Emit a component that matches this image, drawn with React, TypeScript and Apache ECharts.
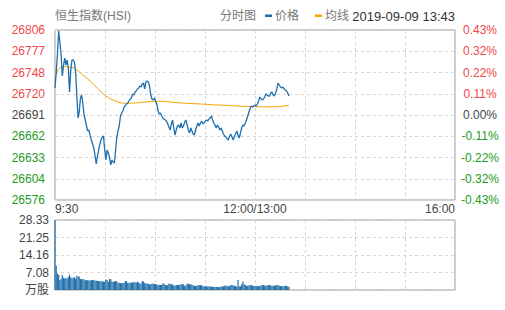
import React, { useEffect, useRef } from "react";
import * as echarts from "echarts";

const TITLE = "恒生指数(HSI)";
const VIEW_LABEL = "分时图";
const LEGEND_PRICE = "价格";
const LEGEND_AVG = "均线";
const TIME_STAMP = "2019-09-09 13:43";

const X_TICK_LABELS = ["9:30", "", "", "", "12:00/13:00", "", "", "", "16:00"];
const PRICE_TICK_LABELS = ["26576", "26604", "26633", "26662", "26691", "26720", "26748", "26777", "26806"];
const PCT_TICK_LABELS = ["-0.43%", "-0.32%", "-0.22%", "-0.11%", "0.00%", "0.11%", "0.22%", "0.32%", "0.43%"];
const VOL_TICK_LABELS = ["万股", "7.08", "14.16", "21.25", "28.33"];

const PRICE_MIN = 26576;
const PRICE_MAX = 26806;
const PCT_MAX = 0.43;
const VOL_MAX = 28.33;
const SESSION_MINUTES = 330;

// minute-by-minute index price from 9:30 (index 0) to 13:43 (index 193)
const prices = [
  26727.5, 26749.2, 26772.2, 26805.0, 26789.8, 26773.5, 26743.8, 26757.3, 26768.1, 26758.6,
  26765.4, 26754.6, 26722.1, 26751.9, 26765.4, 26765.4, 26762.7, 26749.2, 26718.1, 26686.9,
  26695.1, 26714.0, 26718.1, 26705.9, 26691.0, 26684.2, 26676.1, 26669.4, 26670.7, 26662.6,
  26657.2, 26651.8, 26646.4, 26636.9, 26624.7, 26635.5, 26643.6, 26651.8, 26657.2, 26661.2,
  26662.6, 26643.6, 26630.1, 26643.6, 26639.6, 26632.8, 26623.4, 26630.1, 26627.4, 26626.1,
  26643.6, 26661.2, 26669.4, 26676.1, 26689.6, 26693.7, 26696.4, 26701.8, 26703.2, 26705.9,
  26707.2, 26709.9, 26712.6, 26714.0, 26719.4, 26718.1, 26722.1, 26723.5, 26726.2, 26727.5,
  26730.2, 26728.9, 26732.9, 26734.3, 26726.2, 26735.6, 26737.0, 26735.6, 26730.2, 26718.1,
  26712.6, 26711.3, 26714.0, 26709.9, 26705.9, 26696.4, 26692.4, 26693.7, 26689.6, 26686.9,
  26685.6, 26684.2, 26682.9, 26678.8, 26674.8, 26670.7, 26678.8, 26684.2, 26673.4, 26663.9,
  26670.7, 26676.1, 26677.5, 26673.4, 26680.2, 26673.4, 26676.1, 26681.5, 26684.2, 26677.5,
  26670.7, 26666.6, 26673.4, 26669.4, 26665.3, 26663.9, 26670.7, 26676.1, 26680.2, 26676.1,
  26680.2, 26682.9, 26678.8, 26680.2, 26682.9, 26684.2, 26682.9, 26685.6, 26686.9, 26689.6,
  26684.2, 26680.2, 26677.5, 26673.4, 26677.5, 26674.8, 26670.7, 26673.4, 26669.4, 26665.3,
  26662.6, 26661.2, 26658.5, 26657.2, 26662.6, 26665.3, 26661.2, 26657.2, 26662.6, 26665.3,
  26669.4, 26663.9, 26659.9, 26666.6, 26673.4, 26677.5, 26676.1, 26680.2, 26684.2, 26689.6,
  26695.1, 26700.5, 26703.2, 26701.8, 26703.2, 26704.5, 26703.2, 26705.9, 26709.9, 26715.4,
  26712.6, 26711.3, 26712.6, 26715.4, 26719.4, 26718.1, 26716.7, 26716.7, 26720.8, 26722.1,
  26718.1, 26716.7, 26720.8, 26726.2, 26734.3, 26731.6, 26728.9, 26727.5, 26728.9, 26726.2,
  26724.8, 26723.5, 26720.8, 26716.7,
];

// average line, read at selected minutes
const avgMinutes = [
  0, 2, 4, 6, 8, 10, 12, 14, 16, 18, 20, 22, 24, 26, 28, 30, 32, 34, 36, 38, 40, 42, 44, 46, 48, 50, 52,
  55, 60, 65, 70, 75, 80, 85, 90, 95, 100, 110, 120, 130, 140, 150, 160, 170, 180, 185, 190, 193,
];
const avgPrices = [
  26738.4, 26751.9, 26754.6, 26755.9, 26756.6, 26755.9, 26755.9, 26755.3, 26754.6, 26751.9, 26749.2,
  26746.5, 26743.8, 26741.1, 26738.4, 26735.6, 26732.3, 26728.9, 26725.5, 26722.1, 26719.4, 26716.7,
  26714.7, 26712.6, 26711.3, 26709.9, 26708.6, 26707.2, 26706.9, 26707.2, 26707.9, 26708.6, 26709.3,
  26709.7, 26709.3, 26708.6, 26707.9, 26706.6, 26705.9, 26704.9, 26704.1, 26703.2, 26702.5, 26702.1,
  26702.1, 26702.3, 26703.6, 26703.9,
];

// per-minute volume (万股)
const volumes = [
  28.33, 9.8, 6.7, 6.2, 4.0, 4.5, 6.1, 5.0, 4.7, 4.9,
  4.6, 5.4, 6.3, 5.2, 4.7, 5.1, 5.2, 4.6, 5.8, 5.4,
  5.5, 4.5, 4.4, 4.5, 4.2, 3.9, 3.9, 4.0, 3.8, 3.9,
  3.9, 4.0, 4.0, 3.7, 3.8, 3.6, 3.6, 3.5, 3.6, 3.4,
  3.4, 3.3, 4.2, 4.0, 3.2, 4.5, 4.4, 3.4, 3.3, 3.4,
  3.6, 3.5, 2.8, 2.9, 2.8, 2.7, 2.8, 2.8, 3.6, 3.5,
  2.8, 2.9, 2.7, 3.1, 3.0, 3.2, 3.1, 2.9, 3.4, 3.0,
  2.6, 2.5, 3.6, 3.4, 2.8, 2.6, 2.6, 2.4, 2.3, 2.3,
  2.5, 2.6, 2.4, 2.3, 2.3, 2.0, 2.1, 2.0, 2.0, 2.6,
  2.5, 2.0, 1.9, 2.0, 2.6, 2.4, 2.3, 2.2, 1.8, 1.7,
  2.0, 2.0, 2.1, 2.0, 2.3, 2.4, 2.2, 1.7, 1.8, 2.6,
  2.5, 2.3, 2.3, 2.2, 1.8, 1.7, 1.7, 1.6, 2.0, 2.0,
  2.0, 1.9, 1.5, 1.5, 1.5, 1.5, 1.4, 1.5, 1.4, 1.35,
  1.3, 1.2, 1.2, 1.3, 1.2, 1.2, 1.2, 1.3, 1.5, 1.5,
  1.7, 1.8, 1.6, 1.5, 1.5, 2.0, 2.0, 1.8, 1.75, 1.5,
  1.4, 4.0, 1.5, 1.5, 2.3, 3.4, 2.3, 2.0, 1.75, 1.7,
  1.8, 2.0, 2.0, 1.75, 1.7, 1.6, 1.5, 1.5, 1.6, 1.75,
  1.7, 2.0, 2.0, 1.8, 1.75, 1.8, 2.0, 2.0, 1.8, 1.75,
  1.7, 1.75, 1.8, 2.0, 2.0, 1.75, 1.6, 1.5, 1.5, 1.6,
  1.75, 1.7, 1.4, 1.35,
];

const FONT = '"Liberation Sans", Arial, "Noto Sans CJK SC", sans-serif';
const RED = "#f24848";
const GREEN = "#1e9b1e";
const FLAT = "#444";
const BLUE = "#1f6fae";
const BAR_BLUE = "#226fa9";
const ORANGE = "#f7a600";
const GRID_LINE = "#d4d4d4";

export default function App() {
  const ref = useRef<HTMLDivElement>(null);

  useEffect(() => {
    if (!ref.current) return;
    const chart = echarts.init(ref.current, null, { renderer: "svg" });
    const xStep = SESSION_MINUTES / 8;
    const pStep = (PRICE_MAX - PRICE_MIN) / 8;
    const pctStep = (2 * PCT_MAX) / 8;
    const vStep = VOL_MAX / 4;
    const splitLine = { show: true, lineStyle: { color: GRID_LINE, type: [3, 3] as any, width: 1 } };
    const cls = (i: number) => (i > 4 ? "up" : i < 4 ? "down" : "flat");
    const rich = {
      up: { color: RED, fontSize: 12, fontFamily: FONT },
      down: { color: GREEN, fontSize: 12, fontFamily: FONT },
      flat: { color: FLAT, fontSize: 12, fontFamily: FONT },
    };

    chart.setOption({
      animation: false,
      textStyle: { fontFamily: FONT },
      grid: [
        { left: 55, right: 50, top: 30, height: 170, show: true, borderColor: "#999", borderWidth: 1 },
        { left: 55, right: 50, top: 220, height: 70, show: true, borderColor: "#999", borderWidth: 1 },
      ],
      xAxis: [
        {
          type: "value", gridIndex: 0, min: 0, max: SESSION_MINUTES, interval: xStep,
          axisLine: { show: false }, axisTick: { show: false }, splitLine,
          axisLabel: {
            margin: 3, color: "#444", fontSize: 12, fontFamily: FONT,
            alignMinLabel: "left", alignMaxLabel: "right",
            formatter: (v: number) => X_TICK_LABELS[Math.round(v / xStep)] ?? "",
          },
        },
        {
          type: "value", gridIndex: 1, min: 0, max: SESSION_MINUTES, interval: xStep,
          axisLine: { show: false }, axisTick: { show: false }, splitLine,
          axisLabel: { show: false },
        },
      ],
      yAxis: [
        {
          type: "value", gridIndex: 0, position: "left", min: PRICE_MIN, max: PRICE_MAX, interval: pStep,
          axisLine: { show: false }, axisTick: { show: false }, splitLine,
          axisLabel: {
            margin: 10, fontSize: 12, fontFamily: FONT, rich,
            formatter: (v: number) => {
              const i = Math.round((v - PRICE_MIN) / pStep);
              return `{${cls(i)}|${PRICE_TICK_LABELS[i] ?? ""}}`;
            },
          },
        },
        {
          type: "value", gridIndex: 0, position: "right", min: -PCT_MAX, max: PCT_MAX, interval: pctStep,
          axisLine: { show: false }, axisTick: { show: false }, splitLine: { show: false },
          axisLabel: {
            margin: 25, align: "center", fontSize: 12, fontFamily: FONT, rich,
            formatter: (v: number) => {
              const i = Math.round((v + PCT_MAX) / pctStep);
              return `{${cls(i)}|${PCT_TICK_LABELS[i] ?? ""}}`;
            },
          },
        },
        {
          type: "value", gridIndex: 1, position: "left", min: 0, max: VOL_MAX, interval: vStep,
          axisLine: { show: false }, axisTick: { show: false }, splitLine,
          axisLabel: {
            margin: 6, color: "#444", fontSize: 12, fontFamily: FONT,
            formatter: (v: number) => VOL_TICK_LABELS[Math.round(v / vStep)] ?? "",
          },
        },
      ],
      series: [
        {
          name: LEGEND_AVG, type: "line", xAxisIndex: 0, yAxisIndex: 0, showSymbol: false, symbol: "none",
          lineStyle: { color: ORANGE, width: 1 }, z: 2,
          data: avgMinutes.map((m, i) => [m, avgPrices[i]]),
        },
        {
          name: LEGEND_PRICE, type: "line", xAxisIndex: 0, yAxisIndex: 0, showSymbol: false, symbol: "none",
          lineStyle: { color: BLUE, width: 1.3 }, z: 3,
          data: prices.map((p, i) => [i, p]),
        },
        {
          name: "成交量", type: "bar", xAxisIndex: 1, yAxisIndex: 2, barWidth: 1.2,
          itemStyle: { color: BAR_BLUE },
          data: volumes.map((v, i) => [i, v]),
        },
      ],
      graphic: [
        { type: "text", x: 55, y: 16, style: { text: TITLE, fill: "#777", font: `12px ${FONT}`, verticalAlign: "middle", align: "left" } },
        { type: "text", x: 220, y: 16, style: { text: VIEW_LABEL, fill: "#777", font: `12px ${FONT}`, verticalAlign: "middle", align: "left" } },
        { type: "rect", shape: { x: 265, y: 14.5, width: 7, height: 2.5 }, style: { fill: BLUE } },
        { type: "text", x: 275, y: 16, style: { text: LEGEND_PRICE, fill: "#777", font: `12px ${FONT}`, verticalAlign: "middle", align: "left" } },
        { type: "rect", shape: { x: 315, y: 14.5, width: 7, height: 2.5 }, style: { fill: ORANGE } },
        { type: "text", x: 325, y: 16, style: { text: LEGEND_AVG, fill: "#777", font: `12px ${FONT}`, verticalAlign: "middle", align: "left" } },
        { type: "text", x: 455, y: 16, style: { text: TIME_STAMP, fill: "#333", font: `13px ${FONT}`, verticalAlign: "middle", align: "right" } },
      ],
    });
    return () => chart.dispose();
  }, []);

  return (
    <div
      ref={ref}
      style={{ position: "fixed", left: 0, top: 0, width: 505, height: 310, background: "#fff" }}
    />
  );
}
